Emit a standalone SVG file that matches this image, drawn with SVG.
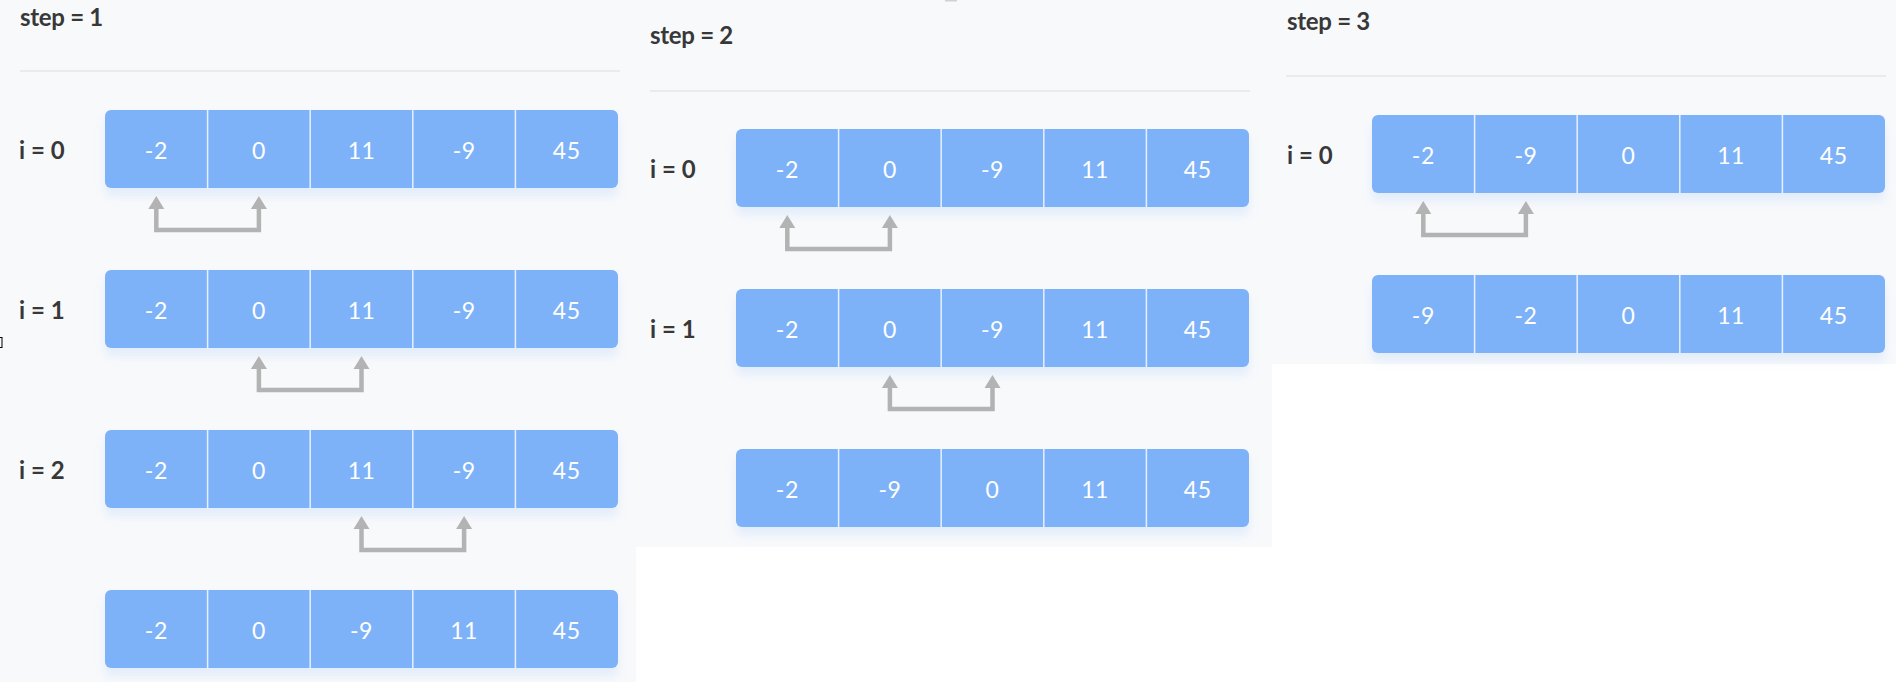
<svg xmlns="http://www.w3.org/2000/svg" width="1896" height="682" viewBox="0 0 1896 682">
<defs>
<style>
.bg{fill:#f8f9fb}
.sep{stroke:#e4e6ea;stroke-width:1.5}
.step{font-family:Lato,"Liberation Sans",sans-serif;font-weight:700;font-size:24px;fill:#383838;letter-spacing:-0.3px}
.lbl{font-family:Lato,"Liberation Sans",sans-serif;font-weight:700;font-size:24px;fill:#383838}
.cell{fill:#7eb2f8}
.div{stroke:#e6f0fd;stroke-width:1.5}
.num{font-family:Lato,"Liberation Sans",sans-serif;font-size:23px;fill:#ffffff;text-anchor:middle;letter-spacing:0.5px}
.arr{fill:none;stroke:#b3b3b3;stroke-width:4.5;stroke-linejoin:miter}
.head{fill:#b3b3b3}
</style>
<filter id="sh" x="-5%" y="-20%" width="110%" height="160%">
<feDropShadow dx="0" dy="8" stdDeviation="5" flood-color="#7eb2f8" flood-opacity="0.18"/>
</filter>
<g id="row-tpl">
<rect class="cell" x="0" y="0" width="513" height="78" rx="6" filter="url(#sh)"/>
<line class="div" x1="102.6" y1="0" x2="102.6" y2="78"/>
<line class="div" x1="205.2" y1="0" x2="205.2" y2="78"/>
<line class="div" x1="307.8" y1="0" x2="307.8" y2="78"/>
<line class="div" x1="410.4" y1="0" x2="410.4" y2="78"/>
</g>
</defs>
<rect x="0" y="0" width="1896" height="682" fill="#ffffff"/>
<rect class="bg" x="0" y="0" width="636" height="682"/>
<rect class="bg" x="635" y="0" width="637" height="547"/>
<rect class="bg" x="1271" y="0" width="625" height="364"/>
<rect x="945" y="0" width="12" height="1.5" fill="#cfd1d4"/>
<rect x="-1" y="337.5" width="3" height="10" fill="none" stroke="#000" stroke-width="1"/>

<g id="panel-step1">
<text class="step" x="20" y="26">step = 1</text>
<line class="sep" x1="20" y1="71" x2="620" y2="71"/>
<text class="lbl" x="19" y="159">i = 0</text>
<text class="lbl" x="19" y="319">i = 1</text>
<text class="lbl" x="19" y="479">i = 2</text>
</g>
<g id="s1-r0" transform="translate(105,110)">
<use href="#row-tpl"/>
<text class="num" x="51.3" y="49">-2</text><text class="num" x="153.9" y="49">0</text><text class="num" x="256.5" y="49">11</text><text class="num" x="359.1" y="49">-9</text><text class="num" x="461.7" y="49">45</text>
</g>
<g id="s1-r1" transform="translate(105,270)">
<use href="#row-tpl"/>
<text class="num" x="51.3" y="49">-2</text><text class="num" x="153.9" y="49">0</text><text class="num" x="256.5" y="49">11</text><text class="num" x="359.1" y="49">-9</text><text class="num" x="461.7" y="49">45</text>
</g>
<g id="s1-r2" transform="translate(105,430)">
<use href="#row-tpl"/>
<text class="num" x="51.3" y="49">-2</text><text class="num" x="153.9" y="49">0</text><text class="num" x="256.5" y="49">11</text><text class="num" x="359.1" y="49">-9</text><text class="num" x="461.7" y="49">45</text>
</g>
<g id="s1-r3" transform="translate(105,590)">
<use href="#row-tpl"/>
<text class="num" x="51.3" y="49">-2</text><text class="num" x="153.9" y="49">0</text><text class="num" x="256.5" y="49">-9</text><text class="num" x="359.1" y="49">11</text><text class="num" x="461.7" y="49">45</text>
</g>

<g id="panel-step2">
<text class="step" x="650" y="44">step = 2</text>
<line class="sep" x1="650" y1="91" x2="1250" y2="91"/>
<text class="lbl" x="650" y="178">i = 0</text>
<text class="lbl" x="650" y="338">i = 1</text>
</g>
<g id="s2-r0" transform="translate(736,129)">
<use href="#row-tpl"/>
<text class="num" x="51.3" y="49">-2</text><text class="num" x="153.9" y="49">0</text><text class="num" x="256.5" y="49">-9</text><text class="num" x="359.1" y="49">11</text><text class="num" x="461.7" y="49">45</text>
</g>
<g id="s2-r1" transform="translate(736,289)">
<use href="#row-tpl"/>
<text class="num" x="51.3" y="49">-2</text><text class="num" x="153.9" y="49">0</text><text class="num" x="256.5" y="49">-9</text><text class="num" x="359.1" y="49">11</text><text class="num" x="461.7" y="49">45</text>
</g>
<g id="s2-r2" transform="translate(736,449)">
<use href="#row-tpl"/>
<text class="num" x="51.3" y="49">-2</text><text class="num" x="153.9" y="49">-9</text><text class="num" x="256.5" y="49">0</text><text class="num" x="359.1" y="49">11</text><text class="num" x="461.7" y="49">45</text>
</g>

<g id="panel-step3">
<text class="step" x="1287" y="30">step = 3</text>
<line class="sep" x1="1286" y1="76" x2="1886" y2="76"/>
<text class="lbl" x="1287" y="164">i = 0</text>
</g>
<g id="s3-r0" transform="translate(1372,115)">
<use href="#row-tpl"/>
<text class="num" x="51.3" y="49">-2</text><text class="num" x="153.9" y="49">-9</text><text class="num" x="256.5" y="49">0</text><text class="num" x="359.1" y="49">11</text><text class="num" x="461.7" y="49">45</text>
</g>
<g id="s3-r1" transform="translate(1372,275)">
<use href="#row-tpl"/>
<text class="num" x="51.3" y="49">-9</text><text class="num" x="153.9" y="49">-2</text><text class="num" x="256.5" y="49">0</text><text class="num" x="359.1" y="49">11</text><text class="num" x="461.7" y="49">45</text>
</g>

<g id="connectors">
<path class="arr" d="M156.3,207 V230 H258.9 V207"/>
<polygon class="head" points="156.3,196 148.3,209 164.3,209"/>
<polygon class="head" points="258.9,196 250.9,209 266.9,209"/>

<path class="arr" d="M258.9,367 V390 H361.5 V367"/>
<polygon class="head" points="258.9,356 250.9,369 266.9,369"/>
<polygon class="head" points="361.5,356 353.5,369 369.5,369"/>

<path class="arr" d="M361.5,527 V550 H464.1 V527"/>
<polygon class="head" points="361.5,516 353.5,529 369.5,529"/>
<polygon class="head" points="464.1,516 456.1,529 472.1,529"/>

<path class="arr" d="M787.3,226 V249 H889.9 V226"/>
<polygon class="head" points="787.3,215 779.3,228 795.3,228"/>
<polygon class="head" points="889.9,215 881.9,228 897.9,228"/>

<path class="arr" d="M889.9,386 V409 H992.5 V386"/>
<polygon class="head" points="889.9,375 881.9,388 897.9,388"/>
<polygon class="head" points="992.5,375 984.5,388 1000.5,388"/>

<path class="arr" d="M1423.3,212 V235 H1525.9 V212"/>
<polygon class="head" points="1423.3,201 1415.3,214 1431.3,214"/>
<polygon class="head" points="1525.9,201 1517.9,214 1533.9,214"/>
</g>
</svg>
